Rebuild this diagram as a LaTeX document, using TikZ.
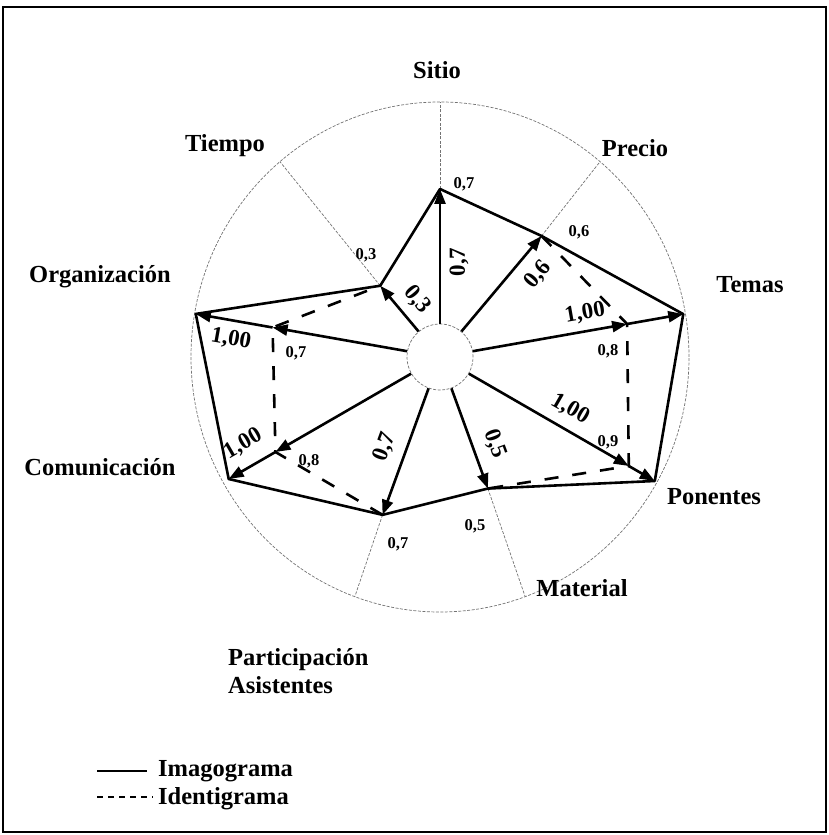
\documentclass[tikz,border=0pt]{standalone}
\usepackage{fontspec}
\setmainfont{Liberation Serif}
\usetikzlibrary{arrows.meta,calc}
\begin{document}
\begin{tikzpicture}[x=1pt,y=1pt,
  axislabel/.style={font=\bfseries\fontsize{24.5}{28}\selectfont, inner sep=0pt},
  vallabel/.style={font=\bfseries\fontsize{16.5}{18}\selectfont, inner sep=0pt},
  spokelabel/.style={font=\bfseries\fontsize{23}{25}\selectfont, inner sep=0pt},
  guide/.style={draw=black!55, line width=0.7pt, dash pattern=on 3pt off 1.5pt},
  imago/.style={line width=2.6pt, line join=round},
  identi/.style={line width=2.6pt, dash pattern=on 14pt off 14pt},
  spoke/.style={line width=2.6pt, -{Triangle[length=15pt,width=11pt]}},
]
\useasboundingbox (0,0) rectangle (829,835);
\draw[line width=1.2pt] (3,3) rectangle (826,828);
\draw[line width=2pt] (3,828) -- (826,828);

\begin{scope}[shift={(440,478)}]
  \draw[guide] (0,0) ellipse [x radius=249, y radius=255];
  \node[circle, draw=black!55, line width=0.7pt, dash pattern=on 3pt off 1.5pt,
        minimum size=66pt, inner sep=0pt, fill=white] (hub) at (0,0) {};
  \foreach \k/\a/\ri/\rd in {1/90/168/168, 2/50/158/158, 3/10/247/190,
      4/-30/248/218, 5/-70/140/140, 6/-110/168/168, 7/-150/244/190,
      8/170/248/170, 9/130/93/93}{
    \coordinate (s\k) at (\a:\ri);
    \coordinate (d\k) at (\a:\rd);
    \coordinate (o\k) at ({249*cos(\a)},{255*sin(\a)});
  }
\end{scope}

% guide lines beyond data points
\foreach \k in {1,2,5,6,9}{ \draw[guide] (s\k) -- (o\k); }

% spokes (single arrow)
\draw[spoke] (hub.90) -- (s1);
\draw[spoke] (hub.50) -- (s2);
\draw[spoke] (hub.-70) -- (s5);
\draw[spoke] (hub.-110) -- (s6);
\draw[spoke] (hub.130) -- (s9);
% spokes with two arrows
\draw[spoke] (hub.10) -- (d3);
\draw[spoke] (d3) -- (s3);
\draw[spoke] (hub.-30) -- (d4);
\draw[spoke] (d4) -- (s4);
\draw[spoke] (hub.-150) -- (d7);
\draw[spoke] (d7) -- (s7);
\draw[spoke] (hub.170) -- (d8);
\draw[spoke] (d8) -- (s8);

% imagograma
\draw[imago] (s1) -- (s2) -- (s3) -- (s4) -- (s5) -- (s6) -- (s7) -- (s8) -- (s9) -- cycle;
% identigrama
\draw[identi] (d2) -- (d3) -- (d4) -- (d5);
\draw[identi] (d6) -- (d7) -- (d8) -- (d9);

% axis labels
\node[axislabel] (lSitio) at (437,765) {Sitio};
\node[axislabel] (lPrecio) at (635,687) {Precio};
\node[axislabel] (lTiempo) at (225,689) {Tiempo};
\node[axislabel] (lOrg) at (100,558) {Organización};
\node[axislabel] (lTemas) at (750,550) {Temas};
\node[axislabel] (lCom) at (100,368) {Comunicación};
\node[axislabel] (lPon) at (714,338) {Ponentes};
\node[axislabel] (lMat) at (582,247) {Material};
\node[axislabel, align=left, anchor=west] (lPart) at (228,164) {Participación\\Asistentes};

% identigrama values
\node[vallabel] (v1) at (464,651) {0,7};
\node[vallabel] (v2) at (579,603) {0,6};
\node[vallabel] (v9) at (366,580) {0,3};
\node[vallabel] (v3) at (608,484) {0,8};
\node[vallabel] (v4) at (608,393) {0,9};
\node[vallabel] (v5) at (475,309) {0,5};
\node[vallabel] (v6) at (398,291) {0,7};
\node[vallabel] (v7) at (309,374) {0,8};
\node[vallabel] (v8) at (296,482) {0,7};

% imagograma values along spokes
\node[spokelabel, rotate=90] (w1) at (459,573) {0,7};
\node[spokelabel, rotate=50] (w2) at (538,560) {0,6};
\node[spokelabel, rotate=10] (w3) at (585,522) {1,00};
\node[spokelabel, rotate=-30] (w4) at (570,426) {1,00};
\node[spokelabel, rotate=-70] (w5) at (495,391) {0,5};
\node[spokelabel, rotate=70] (w6) at (385,388) {0,7};
\node[spokelabel, rotate=30] (w7) at (243,391) {1,00};
\node[spokelabel, rotate=-10] (w8) at (231,496) {1,00};
\node[spokelabel, rotate=-50] (w9) at (417,535) {0,3};

% legend
\coordinate (la) at (97,64);
\coordinate (lb) at (147,64);
\draw[line width=1.5pt] (la) -- (lb);
\node[axislabel, anchor=base west] (leg1) at (158,58) {Imagograma};
\coordinate (lc) at (97,38);
\coordinate (ld) at (153,38);
\draw[line width=1.5pt, dash pattern=on 6pt off 5pt] (lc) -- (ld);
\node[axislabel, anchor=base west] (leg2) at (158,30) {Identigrama};
\end{tikzpicture}
\end{document}
